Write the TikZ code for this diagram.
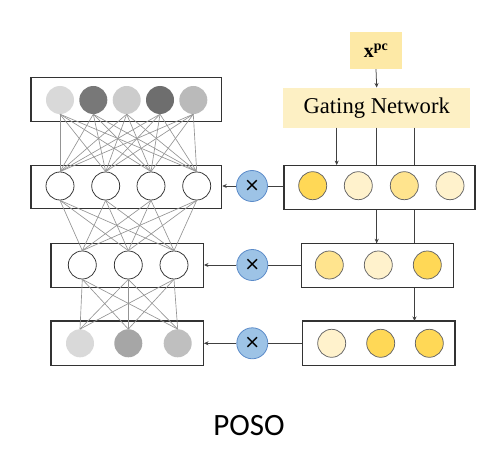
\documentclass[tikz,border=0pt]{standalone}
\usepackage{fontspec}
\setmainfont{Liberation Serif}
\newfontfamily\posofont{Carlito}
\newfontfamily\symfont{DejaVu Sans}
\usetikzlibrary{arrows.meta}
\begin{document}
\begin{tikzpicture}[x=1pt,y=-1pt,
  layerbox/.style={draw=black!80,line width=1.2pt,fill=white},
  unit/.style={circle,minimum size=28pt,inner sep=0pt},
  hid/.style={unit,draw=black!80,line width=0.75pt,fill=white},
  gate/.style={unit,draw=black!60,line width=0.75pt},
  gry/.style={unit,fill=#1},
  mult/.style={circle,minimum size=31pt,inner sep=0pt,line width=0.8pt,font=\symfont\fontsize{19}{19}\selectfont},
  conn/.style={draw=black!42,line width=0.65pt},
  flow/.style={draw=black!75,line width=0.75pt},
  tip/.style={-{Stealth[length=4.5pt,width=4pt]}}
]
\useasboundingbox (0,0) rectangle (495,449);
\definecolor{goldA}{HTML}{FFD856}
\definecolor{goldB}{HTML}{FFE48E}
\definecolor{goldC}{HTML}{FFF2CC}
\definecolor{multfill}{HTML}{9DC3E6}
\definecolor{multdraw}{HTML}{5B8BC9}
\definecolor{xpc}{HTML}{FDE9A6}
\definecolor{gatefill}{HTML}{FDF0C4}
\tikzset{mult/.append style={fill=multfill,draw=multdraw}}

% gating side
\node[fill=xpc,minimum width=52pt,minimum height=37pt,inner sep=0pt] (xpc) at (376,50.5) {\fontsize{20}{20}\selectfont$\mathbf{x}^{\mathbf{pc}}$};
\node[fill=gatefill,minimum width=187pt,minimum height=40pt,inner sep=0pt] (gn) at (376.7,107.7) {\fontsize{22.6}{24}\selectfont Gating Network};
\draw[flow,tip] (xpc.south) -- (gn.north);

\coordinate (g1) at (336.7,127.7);
\coordinate (g2) at (376.7,127.7);
\coordinate (g3) at (414.5,127.7);
\coordinate (r2t) at (376.7,243.3);
\coordinate (r3t) at (414.5,321);
\draw[flow] (g2) -- (r2t);
\draw[flow] (g3) -- (r3t);

% right boxes
\node[layerbox,minimum width=191pt,minimum height=43.6pt,inner sep=0pt] (rb1) at (379.5,187.5) {};
\node[layerbox,minimum width=151.6pt,minimum height=44pt,inner sep=0pt] (rb2) at (377.5,265.3) {};
\node[layerbox,minimum width=152.3pt,minimum height=44.7pt,inner sep=0pt] (rb3) at (378.8,343.3) {};
\draw[flow,tip] (g1) -- (g1 |- rb1.north);
\draw[flow,tip] (rb1.south -| r2t) -- (r2t);
\draw[flow,tip] (rb2.south -| r3t) -- (r3t);

\node[gate,fill=goldA] (a1) at (312.7,185.7) {};
\node[gate,fill=goldC] (a2) at (358.3,185.7) {};
\node[gate,fill=goldB] (a3) at (404.3,185.7) {};
\node[gate,fill=goldC] (a4) at (450,185.7) {};

\node[gate,fill=goldB] (b1) at (329.3,265) {};
\node[gate,fill=goldC] (b2) at (378.3,265) {};
\node[gate,fill=goldA] (b3) at (427.3,265) {};

\node[gate,fill=goldC] (c1) at (331.7,343.3) {};
\node[gate,fill=goldA] (c2) at (380.7,343.3) {};
\node[gate,fill=goldA] (c3) at (429.3,343.3) {};

% left boxes
\node[layerbox,minimum width=190.7pt,minimum height=44.4pt,inner sep=0pt] (lb0) at (126.3,99.5) {};
\node[layerbox,minimum width=190.7pt,minimum height=42.6pt,inner sep=0pt] (lb1) at (126.3,187) {};
\node[layerbox,minimum width=152.3pt,minimum height=44pt,inner sep=0pt] (lb2) at (127.2,265.3) {};
\node[layerbox,minimum width=152.3pt,minimum height=44.7pt,inner sep=0pt] (lb3) at (127.2,343.3) {};

% units
\node[gry=black!15] (t1) at (60,100) {};
\node[gry=black!53] (t2) at (93.3,100) {};
\node[gry=black!20] (t3) at (126.7,100) {};
\node[gry=black!57] (t4) at (160,100) {};
\node[gry=black!27] (t5) at (193.3,100) {};

\node[hid] (h1) at (60,186) {};
\node[hid] (h2) at (105.7,186) {};
\node[hid] (h3) at (151,186) {};
\node[hid] (h4) at (196.7,186) {};

\node[hid] (k1) at (82.3,265) {};
\node[hid] (k2) at (128.3,265) {};
\node[hid] (k3) at (174,265) {};

\node[gry=black!15] (o1) at (80,343.3) {};
\node[gry=black!35] (o2) at (128.3,343.3) {};
\node[gry=black!25] (o3) at (177.7,343.3) {};

% connections
\foreach \i in {1,...,5}{\foreach \j in {1,...,4}{\draw[conn] (t\i.south) -- (h\j.north);}}
\foreach \i in {1,...,4}{\foreach \j in {1,...,3}{\draw[conn] (h\i.south) -- (k\j.north);}}
\foreach \i in {1,...,3}{\foreach \j in {1,...,3}{\draw[conn] (k\i.south) -- (o\j.north);}}

% multipliers
\node[mult] (m1) at (252,186) {×};
\node[mult] (m2) at (252.3,265) {×};
\node[mult] (m3) at (252.3,343.3) {×};
\draw[flow] (rb1.west |- m1) -- (m1);
\draw[flow] (rb2.west |- m2) -- (m2);
\draw[flow] (rb3.west |- m3) -- (m3);
\draw[flow,tip] (m1) -- (lb1.east |- m1);
\draw[flow,tip] (m2) -- (lb2.east |- m2);
\draw[flow,tip] (m3) -- (lb3.east |- m3);

\node[font=\posofont\fontsize{31}{31}\selectfont,inner sep=0pt] (poso) at (249,426) {POSO};
\end{tikzpicture}
\end{document}
